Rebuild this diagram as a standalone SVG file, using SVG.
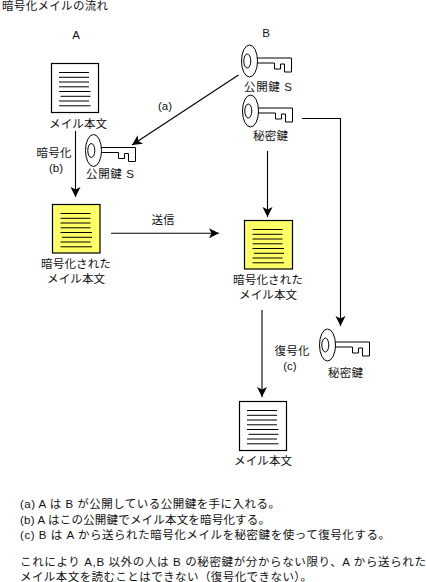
<svg xmlns="http://www.w3.org/2000/svg" xmlns:xlink="http://www.w3.org/1999/xlink" width="426" height="582" viewBox="0 0 426 582">
<style>
text{font-family:"Liberation Sans","Noto Sans CJK JP",sans-serif;font-size:11.5px;fill:#111}
.m{text-anchor:middle}
.doc{fill:#fff;stroke:#000;stroke-width:1.2}
.y{fill:#ffff66}
.ln{stroke:#000;stroke-width:1;fill:none}
.c{stroke:#000;stroke-width:1.1;fill:none}
.k{fill:#fff;stroke:#000;stroke-width:1}
</style>
<defs>
<marker id="ah" viewBox="0 0 12 12" markerUnits="userSpaceOnUse" markerWidth="12" markerHeight="12" refX="10" refY="6" orient="auto"><path d="M0 1L10 6L0 11L2.5 6Z" fill="#000"/></marker>
<path id="lines" class="ln" d="M7.5 9.500H37.500M7.500 14.300H37.500M7.500 19H37.500M7.500 23.800H37.500M7.500 28.500H39M9 33.300H39M7.500 38H37.500M7.500 42.800H39"/>
<g id="key"><path class="k" d="M7 -3H42V11H35V3H31V8H25V2H7Z"/><ellipse class="k" cx="0" cy="0" rx="8" ry="16"/><ellipse class="k" cx="-2.2" cy="0" rx="3.500" ry="7"/></g>
</defs>
<rect width="426" height="582" fill="#fff"/>
<text x="2" y="10" textLength="106">暗号化メイルの流れ</text>
<g id="connectors">
<path class="c" marker-end="url(#ah)" d="M238.500 75L132 145"/>
<path class="c" marker-end="url(#ah)" d="M75.500 131V197"/>
<path class="c" marker-end="url(#ah)" d="M111 233.300H219"/>
<path class="c" marker-end="url(#ah)" d="M267.500 151V217"/>
<path class="c" marker-end="url(#ah)" d="M302 118.500H340.500V326"/>
<path class="c" marker-end="url(#ah)" d="M262 310V397"/>
</g>
<g id="label-a"><text x="76" y="39" class="m">A</text></g>
<g id="label-b"><text x="266" y="37" class="m">B</text></g>
<g id="doc-a"><rect class="doc" x="51.500" y="63.500" width="47" height="49"/><use xlink:href="#lines" x="51.500" y="63"/><text x="78" y="128" class="m" textLength="58">メイル本文</text></g>
<g id="enc-label-a"><text x="54" y="157" class="m" textLength="35">暗号化</text><text x="56" y="172" class="m">(b)</text></g>
<g id="key-a"><use xlink:href="#key" x="93.500" y="150.500"/><text x="110" y="178" class="m" textLength="48">公開鍵 S</text></g>
<g id="edge-label-a"><text x="165" y="110" class="m">(a)</text></g>
<g id="key-b-public"><use xlink:href="#key" x="249.500" y="61"/><text x="268" y="91" class="m" textLength="48">公開鍵 S</text></g>
<g id="key-b-secret"><use xlink:href="#key" x="250.500" y="111"/><text x="270.500" y="140" class="m" textLength="35">秘密鍵</text></g>
<g id="doc-enc-a"><rect class="doc y" x="52.500" y="204.500" width="47.500" height="48.500"/><use xlink:href="#lines" x="53" y="204"/><text x="76" y="268" class="m" textLength="70">暗号化された</text><text x="76" y="283" class="m" textLength="58">メイル本文</text></g>
<g id="send-label"><text x="163" y="224" class="m" textLength="23">送信</text></g>
<g id="doc-enc-b"><rect class="doc y" x="244.500" y="220.500" width="48" height="48.500"/><use xlink:href="#lines" x="245" y="220"/><text x="268" y="284" class="m" textLength="70">暗号化された</text><text x="268" y="299" class="m" textLength="58">メイル本文</text></g>
<g id="dec-label"><text x="292" y="355" class="m" textLength="35">復号化</text><text x="290" y="370" class="m">(c)</text></g>
<g id="key-c"><use xlink:href="#key" x="327.500" y="345"/><text x="345.500" y="377" class="m" textLength="35">秘密鍵</text></g>
<g id="doc-b"><rect class="doc" x="239.500" y="401.500" width="47" height="49"/><use xlink:href="#lines" x="239.500" y="401"/><text x="263" y="465" class="m" textLength="58">メイル本文</text></g>
<g id="notes">
<text x="20" y="508" textLength="260">(a) A は B が公開している公開鍵を手に入れる。</text>
<text x="20" y="524" textLength="250">(b) A はこの公開鍵でメイル本文を暗号化する。</text>
<text x="20" y="539" textLength="370">(c) B は A から送られた暗号化メイルを秘密鍵を使って復号化する。</text>
<text x="20" y="566" textLength="406">これにより A,B 以外の人は B の秘密鍵が分からない限り、A から送られた</text>
<text x="20" y="581" textLength="292">メイル本文を読むことはできない（復号化できない）。</text>
</g>
</svg>
